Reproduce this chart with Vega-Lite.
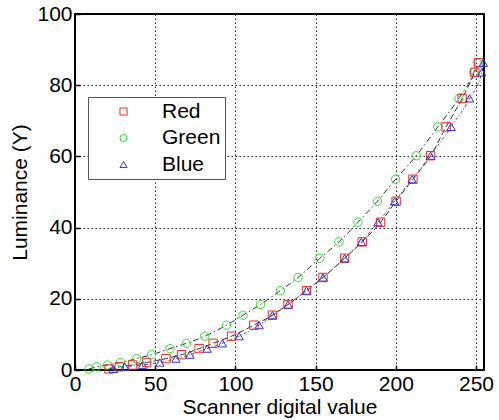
{
  "$schema": "https://vega.github.io/schema/vega-lite/v6.json",
  "width": 409,
  "height": 356,
  "autosize": {"type": "none"},
  "padding": {"left": 75, "top": 14, "right": 15, "bottom": 50},
  "background": "white",
  "config": {
    "font": "Liberation Sans",
    "view": {"stroke": "black", "strokeWidth": 2},
    "axis": {
      "domain": false,
      "grid": true,
      "gridColor": "#000000",
      "gridDash": [1.5, 2.5],
      "gridOpacity": 0.85,
      "gridWidth": 1,
      "ticks": true,
      "tickSize": -5,
      "tickColor": "black",
      "tickWidth": 1.5,
      "labelFont": "Liberation Sans",
      "labelFontSize": 21,
      "labelColor": "black",
      "titleFont": "Liberation Sans",
      "titleFontSize": 21,
      "titleFontWeight": "normal",
      "titleColor": "black"
    }
  },
  "data": {
    "values": [
      {"channel": "Green", "x": 8.7, "y": 0.3},
      {"channel": "Green", "x": 13.5, "y": 0.9},
      {"channel": "Green", "x": 20.1, "y": 1.4},
      {"channel": "Green", "x": 28.4, "y": 2.1},
      {"channel": "Green", "x": 38.4, "y": 3.2},
      {"channel": "Green", "x": 47.7, "y": 4.3},
      {"channel": "Green", "x": 59.2, "y": 6.0},
      {"channel": "Green", "x": 69.5, "y": 7.5},
      {"channel": "Green", "x": 80.9, "y": 9.5},
      {"channel": "Green", "x": 94.4, "y": 12.6},
      {"channel": "Green", "x": 104.8, "y": 15.4},
      {"channel": "Green", "x": 115.6, "y": 18.4},
      {"channel": "Green", "x": 128.1, "y": 22.3},
      {"channel": "Green", "x": 139.1, "y": 26.0},
      {"channel": "Green", "x": 152.6, "y": 31.4},
      {"channel": "Green", "x": 164.6, "y": 36.0},
      {"channel": "Green", "x": 176.4, "y": 41.5},
      {"channel": "Green", "x": 188.5, "y": 47.4},
      {"channel": "Green", "x": 199.9, "y": 53.6},
      {"channel": "Green", "x": 212.8, "y": 60.2},
      {"channel": "Green", "x": 226.2, "y": 68.3},
      {"channel": "Green", "x": 239.3, "y": 76.3},
      {"channel": "Green", "x": 248.6, "y": 83.6},
      {"channel": "Green", "x": 250.8, "y": 86.3},
      {"channel": "Red", "x": 21.2, "y": 0.3},
      {"channel": "Red", "x": 27.6, "y": 0.9},
      {"channel": "Red", "x": 35.9, "y": 1.4},
      {"channel": "Red", "x": 44.6, "y": 2.1},
      {"channel": "Red", "x": 56.7, "y": 3.2},
      {"channel": "Red", "x": 66.4, "y": 4.3},
      {"channel": "Red", "x": 77.4, "y": 6.0},
      {"channel": "Red", "x": 86.1, "y": 7.5},
      {"channel": "Red", "x": 97.6, "y": 9.5},
      {"channel": "Red", "x": 111.5, "y": 12.6},
      {"channel": "Red", "x": 123.1, "y": 15.4},
      {"channel": "Red", "x": 132.8, "y": 18.4},
      {"channel": "Red", "x": 144.3, "y": 22.3},
      {"channel": "Red", "x": 154.6, "y": 26.0},
      {"channel": "Red", "x": 168.1, "y": 31.4},
      {"channel": "Red", "x": 179.1, "y": 36.0},
      {"channel": "Red", "x": 190.5, "y": 41.5},
      {"channel": "Red", "x": 200.2, "y": 47.4},
      {"channel": "Red", "x": 210.7, "y": 53.6},
      {"channel": "Red", "x": 221.7, "y": 60.2},
      {"channel": "Red", "x": 231.4, "y": 68.3},
      {"channel": "Red", "x": 241.4, "y": 76.3},
      {"channel": "Red", "x": 249.3, "y": 83.6},
      {"channel": "Red", "x": 251.8, "y": 86.3},
      {"channel": "Blue", "x": 23.9, "y": 0.3},
      {"channel": "Blue", "x": 31.1, "y": 0.9},
      {"channel": "Blue", "x": 42.1, "y": 1.4},
      {"channel": "Blue", "x": 52.9, "y": 2.1},
      {"channel": "Blue", "x": 62.9, "y": 3.2},
      {"channel": "Blue", "x": 71.6, "y": 4.3},
      {"channel": "Blue", "x": 82.4, "y": 6.0},
      {"channel": "Blue", "x": 91.9, "y": 7.5},
      {"channel": "Blue", "x": 102.3, "y": 9.5},
      {"channel": "Blue", "x": 114.8, "y": 12.6},
      {"channel": "Blue", "x": 123.1, "y": 15.4},
      {"channel": "Blue", "x": 132.8, "y": 18.4},
      {"channel": "Blue", "x": 144.3, "y": 22.3},
      {"channel": "Blue", "x": 154.6, "y": 26.0},
      {"channel": "Blue", "x": 168.1, "y": 31.4},
      {"channel": "Blue", "x": 178.5, "y": 36.0},
      {"channel": "Blue", "x": 188.9, "y": 41.5},
      {"channel": "Blue", "x": 199.3, "y": 47.4},
      {"channel": "Blue", "x": 210.2, "y": 53.6},
      {"channel": "Blue", "x": 221.7, "y": 60.2},
      {"channel": "Blue", "x": 234.5, "y": 68.3},
      {"channel": "Blue", "x": 246.0, "y": 76.3},
      {"channel": "Blue", "x": 253.6, "y": 83.6},
      {"channel": "Blue", "x": 254.6, "y": 86.3}
    ]
  },
  "encoding": {
    "x": {
      "field": "x",
      "type": "quantitative",
      "title": "Scanner digital value",
      "scale": {"domain": [0, 255], "nice": false, "zero": false},
      "axis": {"values": [0, 50, 100, 150, 200, 250], "labelPadding": 8, "titlePadding": 2, "labelFlush": false}
    },
    "y": {
      "field": "y",
      "type": "quantitative",
      "title": "Luminance (Y)",
      "scale": {"domain": [0, 100], "nice": false},
      "axis": {"values": [0, 20, 40, 60, 80, 100], "labelPadding": 8, "titlePadding": 6, "labelFlush": false}
    }
  },
  "layer": [
    {
      "transform": [{"filter": "datum.channel === 'Red'"}],
      "mark": {"type": "line", "color": "#333333", "strokeWidth": 1, "interpolate": "monotone", "strokeDash": [6, 3]},
      "encoding": {}
    },
    {
      "transform": [{"filter": "datum.channel === 'Green'"}],
      "mark": {"type": "line", "color": "#333333", "strokeWidth": 1, "interpolate": "monotone", "strokeDash": [6, 3, 1.5, 3]},
      "encoding": {}
    },
    {
      "transform": [{"filter": "datum.channel === 'Blue'"}],
      "mark": {"type": "line", "color": "#555555", "strokeWidth": 1, "interpolate": "monotone", "strokeDash": [3, 2, 1, 2]},
      "encoding": {}
    },
    {
      "mark": {"type": "point", "filled": false, "strokeWidth": 1, "opacity": 1, "size": 70},
      "encoding": {
        "color": {
          "field": "channel",
          "type": "nominal",
          "scale": {"domain": ["Red", "Green", "Blue"], "range": ["#ee2a2a", "#2fdc2f", "#3232d8"]},
          "legend": {
            "title": null,
            "orient": "none",
            "legendX": 13,
            "legendY": 83,
            "direction": "vertical",
            "fillColor": "white",
            "strokeColor": "#555555",
            "padding": 4,
            "rowPadding": 4.5,
            "symbolOffset": 21,
            "labelOffset": 28,
            "symbolSize": 50,
            "symbolStrokeWidth": 1,
            "labelFont": "Liberation Sans",
            "labelFontSize": 21,
            "labelColor": "black"
          }
        },
        "shape": {
          "field": "channel",
          "type": "nominal",
          "scale": {"domain": ["Red", "Green", "Blue"], "range": ["square", "circle", "triangle-up"]}
        }
      }
    }
  ]
}
